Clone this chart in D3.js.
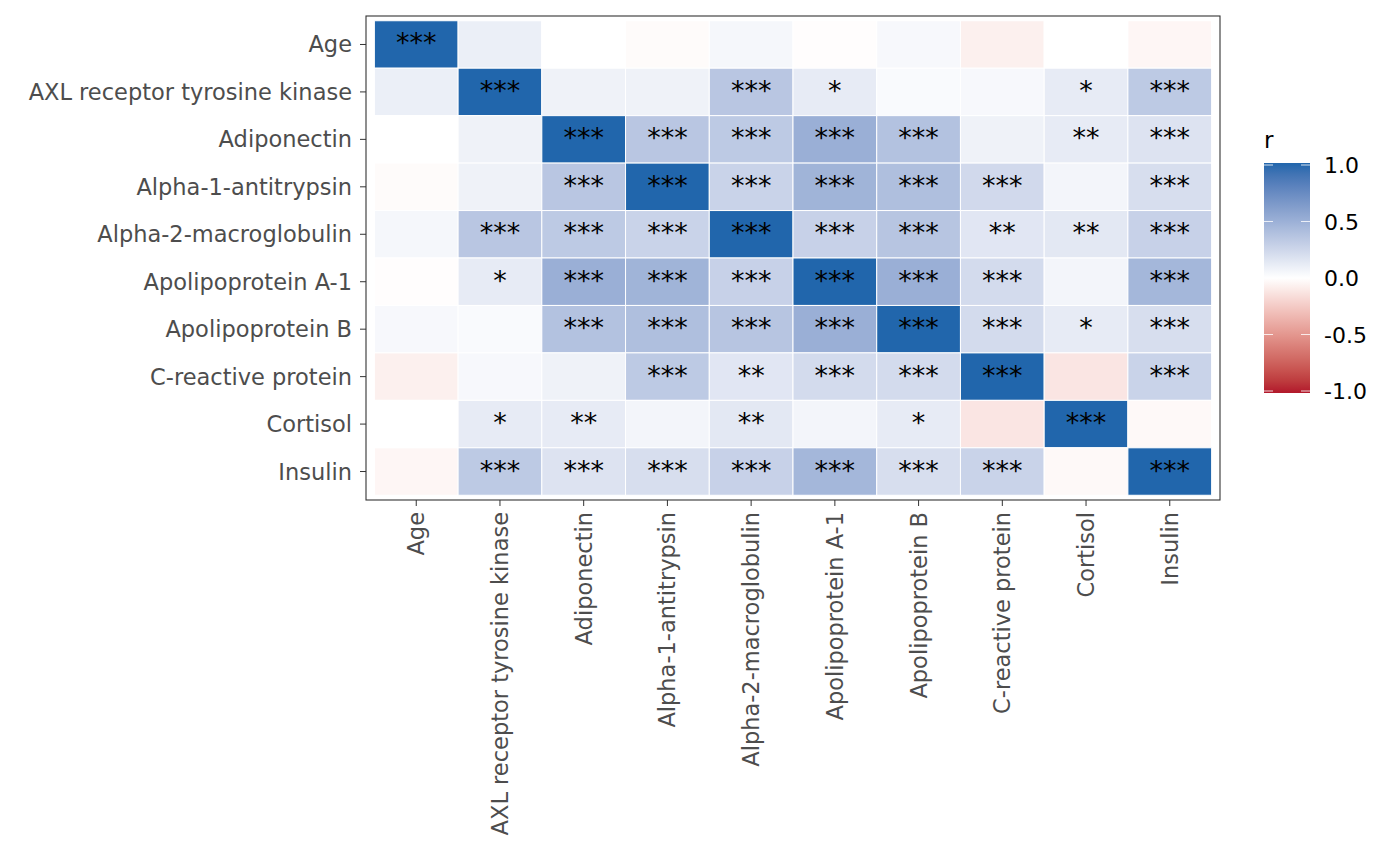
<!DOCTYPE html><html><head><meta charset="utf-8"><script src="https://d3js.org/d3.v7.min.js"></script>
<style>body{margin:0;background:#fff}text{font-family:"DejaVu Sans",sans-serif}</style></head><body><svg width="1400" height="866"></svg>
<script>
const vars=["Age","AXL receptor tyrosine kinase","Adiponectin","Alpha-1-antitrypsin","Alpha-2-macroglobulin","Apolipoprotein A-1","Apolipoprotein B","C-reactive protein","Cortisol","Insulin"];
const rVals=[
[1,.10,0,-.02,.05,-.01,.04,-.07,0,-.04],
[.10,1,.08,.08,.35,.12,.03,.04,.12,.33],
[0,.08,1,.35,.33,.50,.38,.08,.12,.17],
[-.02,.08,.35,1,.27,.47,.40,.23,.06,.20],
[.05,.35,.33,.27,1,.28,.36,.15,.14,.28],
[-.01,.12,.50,.47,.28,1,.50,.22,.06,.45],
[.04,.03,.38,.40,.36,.50,1,.22,.12,.20],
[-.07,.04,.08,.33,.15,.22,.22,1,-.12,.27],
[0,.12,.12,.06,.14,.06,.12,-.12,1,-.03],
[-.04,.33,.17,.20,.28,.45,.20,.27,-.03,1]];
const sig=[
["***","","","","","","","","",""],
["","***","","","***","*","","","*","***"],
["","","***","***","***","***","***","","**","***"],
["","","***","***","***","***","***","***","","***"],
["","***","***","***","***","***","***","**","**","***"],
["","*","***","***","***","***","***","***","","***"],
["","","***","***","***","***","***","***","*","***"],
["","","","***","**","***","***","***","","***"],
["","*","**","","**","","*","","***",""],
["","***","***","***","***","***","***","***","","***"]];
const legendTicks=[1,0.5,0,-0.5,-1];
const svg=d3.select("svg");
const L=366,R=1220,T=16,B=500;
const x=d3.scaleBand().domain(vars).range([L,R]).paddingOuter(0.1).paddingInner(0);
const y=d3.scaleBand().domain(vars).range([T,B]).paddingOuter(0.1).paddingInner(0);
const col=d3.scaleLinear().domain([-1,0,1]).range(["#B2182B","#ffffff","#2166AC"]).interpolate(d3.interpolateLab);
const cells=[];vars.forEach((rv,i)=>vars.forEach((cv,j)=>cells.push({rv,cv,r:rVals[i][j],s:sig[i][j]})));
svg.append("g").selectAll("rect").data(cells).join("rect").attr("x",d=>x(d.cv)).attr("y",d=>y(d.rv))
 .attr("width",x.bandwidth()).attr("height",y.bandwidth()).attr("fill",d=>col(d.r)).attr("stroke","#fff").attr("stroke-width",1);
svg.append("g").selectAll("text").data(cells.filter(d=>d.s)).join("text").attr("x",d=>x(d.cv)+x.bandwidth()/2).attr("y",d=>y(d.rv)+y.bandwidth()/2+8)
 .attr("text-anchor","middle").attr("font-size",27).attr("fill","#000").text(d=>d.s);
svg.append("rect").attr("x",L).attr("y",T).attr("width",R-L).attr("height",B-T).attr("fill","none").attr("stroke","#333").attr("stroke-width",1.1);
const ya=svg.append("g");
vars.forEach(v=>{const cy=y(v)+y.bandwidth()/2;
 ya.append("line").attr("x1",L-6).attr("x2",L).attr("y1",cy).attr("y2",cy).attr("stroke","#333");
 ya.append("text").attr("x",L-14).attr("y",cy+8).attr("text-anchor","end").attr("font-size",22.5).attr("fill","#4d4d4d").text(v);
 const cx=x(v)+x.bandwidth()/2;
 ya.append("line").attr("x1",cx).attr("x2",cx).attr("y1",B).attr("y2",B+6).attr("stroke","#333");
 ya.append("text").attr("transform",`translate(${cx+8},${B+12}) rotate(-90)`).attr("text-anchor","end").attr("font-size",22.5).attr("fill","#4d4d4d").text(v);
});
// legend
const lx=1264,lw=46,lt=163,lb=393;
const defs=svg.append("defs");const g=defs.append("linearGradient").attr("id","gr").attr("x1",0).attr("x2",0).attr("y1",0).attr("y2",1);
d3.range(0,1.001,0.05).forEach(t=>g.append("stop").attr("offset",t).attr("stop-color",col(1-2*t)));
svg.append("rect").attr("x",lx).attr("y",lt).attr("width",lw).attr("height",lb-lt).attr("fill","url(#gr)");
const ls=d3.scaleLinear().domain([1,-1]).range([lt+2,lb-2]);
legendTicks.forEach(t=>{const yy=ls(t);
 svg.append("line").attr("x1",lx).attr("x2",lx+9).attr("y1",yy).attr("y2",yy).attr("stroke","#fff").attr("stroke-opacity",.8);
 svg.append("line").attr("x1",lx+lw-9).attr("x2",lx+lw).attr("y1",yy).attr("y2",yy).attr("stroke","#fff").attr("stroke-opacity",.8);
 svg.append("text").attr("x",lx+lw+14).attr("y",yy+8).attr("font-size",22).attr("fill","#000").text(t.toFixed(1));
});
svg.append("text").attr("x",lx).attr("y",148).attr("font-size",23).text("r");
</script></body></html>
